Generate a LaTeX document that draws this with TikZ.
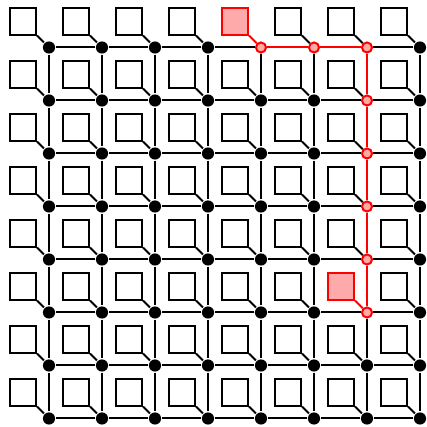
\documentclass[tikz,border=0pt]{standalone}
\usetikzlibrary{calc}
\definecolor{softred}{RGB}{255,170,170}

\begin{document}
\begin{tikzpicture}[x=1cm,y=-1cm,line width=1.07pt,
  vtx/.style={circle,fill=black,inner sep=0pt,minimum size=0.23cm},
  hot/.style={circle,draw=red,fill=softred,inner sep=0pt,minimum size=0.19cm},
  cell/.style={draw,inner sep=0pt,minimum size=0.5cm},
  hotcell/.style={cell,draw=red,fill=softred}]
  \useasboundingbox (0,0) rectangle (8.0566,8.0566);
  % vertices and their cells
  \foreach \i in {0,...,7}
    \foreach \j in {0,...,7} {
      \def\vsty{vtx}\def\csty{cell}
      \ifnum\j=0 \ifnum\i>3 \ifnum\i<7 \def\vsty{hot}\fi\fi\fi
      \ifnum\i=6 \ifnum\j<6 \def\vsty{hot}\fi\fi
      \ifnum\i=4 \ifnum\j=0 \def\csty{hotcell}\fi\fi
      \ifnum\i=6 \ifnum\j=5 \def\csty{hotcell}\fi\fi
      \node[\vsty] (v\i\j) at (0.9245+\i,0.896+\j) {};
      \node[\csty] (c\i\j) at (0.4295+\i,0.401+\j) {};
    }
  % cell links
  \foreach \i in {0,...,7}
    \foreach \j in {0,...,7} {
      \def\esty{black}
      \ifnum\i=4 \ifnum\j=0 \def\esty{red}\fi\fi
      \ifnum\i=6 \ifnum\j=5 \def\esty{red}\fi\fi
      \draw[\esty] (c\i\j.south east) -- (v\i\j);
    }
  % horizontal edges
  \foreach \i in {0,...,6}
    \foreach \j in {0,...,7} {
      \pgfmathtruncatemacro\ni{\i+1}
      \def\esty{black}
      \ifnum\j=0 \ifnum\i>3 \ifnum\i<6 \def\esty{red}\fi\fi\fi
      \draw[\esty] (v\i\j) -- (v\ni\j);
    }
  % vertical edges
  \foreach \i in {0,...,7}
    \foreach \j in {0,...,6} {
      \pgfmathtruncatemacro\nj{\j+1}
      \def\esty{black}
      \ifnum\i=6 \ifnum\j<5 \def\esty{red}\fi\fi
      \draw[\esty] (v\i\j) -- (v\i\nj);
    }
\end{tikzpicture}
\end{document}
